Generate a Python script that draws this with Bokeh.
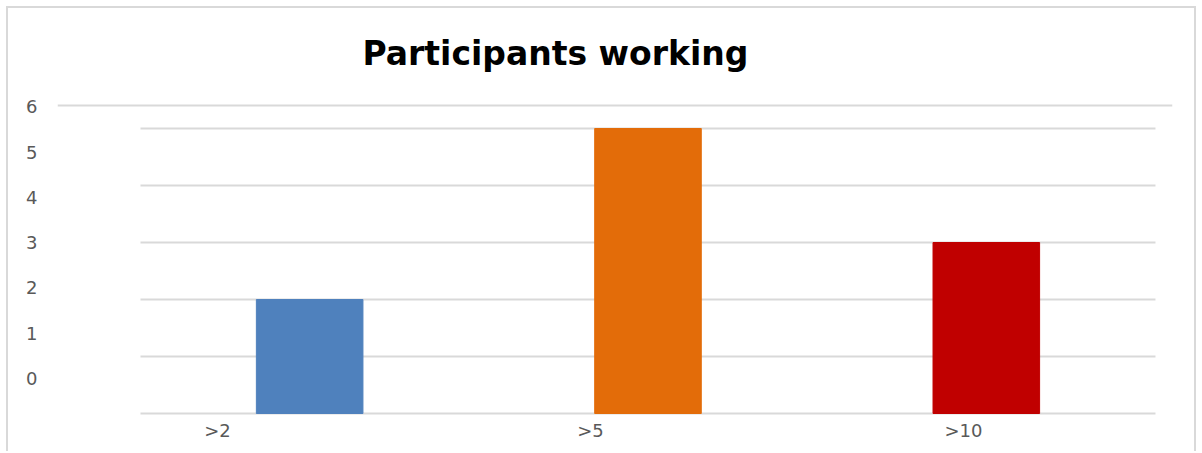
from bokeh.plotting import figure
from bokeh.models import (Range1d, LinearAxis, FixedTicker, Span,
                          ColumnDataSource, Title)
from bokeh.embed import file_html
from bokeh.resources import INLINE

# ---- data ----
categories = [">2", ">5", ">10"]
values = [2, 5, 3]
bar_colors = ["#4f81bd", "#e36c09", "#c00000"]
grid_values = [0, 1, 2, 3, 4, 5]
y_tick_labels = [0, 1, 2, 3, 4, 5, 6]

n = len(categories)
centers = [i + 0.5 for i in range(n)]

p = figure(width=1190, height=445, output_backend="svg", toolbar_location=None,
           x_range=Range1d(-0.2453, 3.0503), y_range=Range1d(-0.0526, 5.579),
           x_axis_location=None, y_axis_location=None,
           min_border_left=49, min_border_right=26, min_border_top=87,
           min_border_bottom=37)
p.styles = {"margin-left": "6px", "margin-top": "6px",
            "border-top": "2px solid #d9d9d9",
            "border-left": "2px solid #d9d9d9",
            "border-right": "2px solid #d9d9d9"}
p.outline_line_color = None
p.xgrid.visible = False
p.ygrid.visible = False
p.background_fill_color = "white"
p.border_fill_color = "white"

# extra ranges for label axes
p.extra_x_ranges = {"xlab": Range1d(-0.429, 2.5603)}
p.extra_y_ranges = {"ylab": Range1d(-0.8398, 6.254)}

# gridlines across category span
gsrc = ColumnDataSource(dict(x0=[0] * len(grid_values), x1=[n] * len(grid_values),
                             y=grid_values))
p.segment(x0="x0", x1="x1", y0="y", y1="y", source=gsrc,
          line_color="#d9d9d9", line_width=2)

# top stray line
p.add_layout(Span(location=5.404, dimension="width", line_color="#d9d9d9", line_width=2))

# bars
src = ColumnDataSource(dict(x=centers, top=values, color=bar_colors))
p.vbar(x="x", top="top", bottom=0, width=0.315, color="color", source=src)

# x labels axis
xax = LinearAxis(x_range_name="xlab")
xax.ticker = FixedTicker(ticks=list(range(n)))
xax.major_label_overrides = {i: c for i, c in enumerate(categories)}
xax.axis_line_color = None
xax.major_tick_line_color = None
xax.minor_tick_line_color = None
xax.major_tick_out = 0
xax.major_label_standoff = 3
xax.major_label_text_font = "DejaVu Sans"
xax.major_label_text_font_size = "18px"
xax.major_label_text_color = "#595959"
p.add_layout(xax, "below")

# y labels axis
yax = LinearAxis(y_range_name="ylab")
yax.ticker = FixedTicker(ticks=y_tick_labels)
yax.axis_line_color = None
yax.major_tick_line_color = None
yax.minor_tick_line_color = None
yax.major_tick_out = 0
yax.major_label_standoff = 20
yax.major_label_text_font = "DejaVu Sans"
yax.major_label_text_font_size = "18px"
yax.major_label_text_color = "#595959"
p.add_layout(yax, "left")

# title
p.title = Title(text="Participants working", align="left", offset=305, standoff=46,
                text_font="DejaVu Sans", text_font_size="33px",
                text_font_style="bold", text_color="black")

open("out.html", "w").write(file_html(p, INLINE))
